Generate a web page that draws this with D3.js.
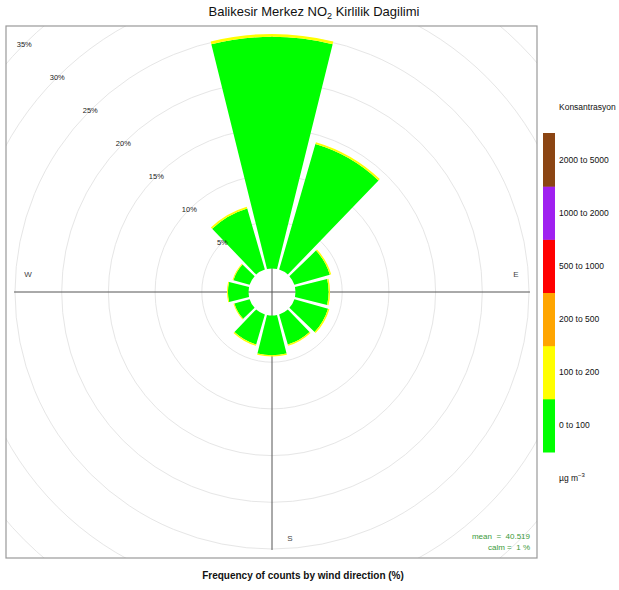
<!DOCTYPE html>
<html>
<head>
<meta charset="utf-8">
<script src="https://cdn.jsdelivr.net/npm/d3@7"></script>
<style>
  html, body { margin: 0; padding: 0; background: #fff; }
  svg { display: block; font-family: "Liberation Sans", Arial, sans-serif; }
  .annot { white-space: pre; }
</style>
</head>
<body>
<svg id="chart" width="619" height="590"></svg>
<script>
// Wind direction sectors (degrees, clockwise from north), 30° bins
const directions = [0, 30, 60, 90, 120, 150, 180, 210, 240, 270, 300, 330];
// Frequency (%) of counts per sector, split by NO2 concentration band
const band0to100   = [24.8, 14.0, 3.95, 3.55, 3.75, 3.35, 4.25, 3.35, 1.7, 2.2, 1.8, 6.8];
const band100to200 = [0.3, 0.2, 0.15, 0.15, 0.15, 0.15, 0.15, 0.15, 0.1, 0.1, 0.1, 0.2];
// Concentration bands (legend, bottom to top) and their colours
const bandLabels = ["0 to 100", "100 to 200", "200 to 500", "500 to 1000", "1000 to 2000", "2000 to 5000"];
const bandColors = ["#00FF00", "#FFFF00", "#FFA500", "#FF0000", "#A020F0", "#8B4513"];
// Radial grid labels (%)
const gridTicks = [5, 10, 15, 20, 25, 30, 35];
// Compass labels shown around the rose
const compassLabels = ["E", "S", "W"];
const compassAngles = [90, 180, 270];
const meanValue = 40.519;
const calmValue = 1;

const svg = d3.select("#chart");

// Plot panel
const panel = { x0: 6, y0: 26, x1: 537, y1: 558 };
const cx = 272, cy = 292;

// Radius scale: frequency (%) -> pixels, with an inner offset for the calm hole
const rScale = d3.scaleLinear().domain([0, 35]).range([23.5, 23.5 + 35 * 9.34]);

svg.append("defs").append("clipPath").attr("id", "panelClip")
  .append("rect")
  .attr("x", panel.x0).attr("y", panel.y0)
  .attr("width", panel.x1 - panel.x0).attr("height", panel.y1 - panel.y0);

const plot = svg.append("g").attr("clip-path", "url(#panelClip)");
const g = plot.append("g").attr("transform", `translate(${cx},${cy})`);

// Grid circles
g.selectAll("circle.grid").data(gridTicks).join("circle")
  .attr("class", "grid")
  .attr("r", d => rScale(d))
  .attr("fill", "none")
  .attr("stroke", "#e6e6e6")
  .attr("stroke-width", 1);

// Axis cross
const axisLen = rScale(25.1);
g.append("line").attr("x1", -axisLen).attr("x2", axisLen).attr("y1", 0).attr("y2", 0)
  .attr("stroke", "#555").attr("stroke-width", 1);
g.append("line").attr("x1", 0).attr("x2", 0).attr("y1", -axisLen).attr("y2", axisLen)
  .attr("stroke", "#555").attr("stroke-width", 1);

// Stack the concentration bands per direction
const stacked = [];
directions.forEach((dir, i) => {
  const vals = [band0to100[i], band100to200[i]];
  let cum = 0;
  vals.forEach((v, b) => {
    stacked.push({ dir, band: b, lo: cum, hi: cum + v });
    cum += v;
  });
});

const halfWidth = 15, trim = 1.1;
const arc = d3.arc()
  .innerRadius(d => rScale(d.lo))
  .outerRadius(d => rScale(d.hi))
  .startAngle(d => (d.dir - halfWidth + trim) * Math.PI / 180)
  .endAngle(d => (d.dir + halfWidth - trim) * Math.PI / 180)
  .padAngle(0.013)
  .padRadius(100);

g.selectAll("path.bar").data(stacked).join("path")
  .attr("class", "bar")
  .attr("d", arc)
  .attr("fill", d => bandColors[d.band]);

// Grid labels along the north-west diagonal
const labAngle = 315 * Math.PI / 180;
g.selectAll("text.gridlab").data(gridTicks).join("text")
  .attr("class", "gridlab")
  .attr("x", d => rScale(d) * Math.sin(labAngle))
  .attr("y", d => -rScale(d) * Math.cos(labAngle))
  .attr("text-anchor", "middle")
  .attr("dy", "0.35em")
  .attr("font-size", 7.5)
  .attr("fill", "#222")
  .text(d => d + "%");

// Compass labels
g.selectAll("text.compass").data(compassLabels).join("text")
  .attr("class", "compass")
  .attr("x", (d, i) => {
    const a = compassAngles[i] * Math.PI / 180;
    return 244 * Math.sin(a) + (compassAngles[i] === 180 ? 18 : 0);
  })
  .attr("y", (d, i) => {
    const a = compassAngles[i] * Math.PI / 180;
    return -244 * Math.cos(a) + (compassAngles[i] === 180 ? 2 : -18);
  })
  .attr("text-anchor", "middle")
  .attr("dy", "0.35em")
  .attr("font-size", 8)
  .attr("fill", "#444")
  .text(d => d);

// Panel border
svg.append("rect")
  .attr("x", panel.x0).attr("y", panel.y0)
  .attr("width", panel.x1 - panel.x0).attr("height", panel.y1 - panel.y0)
  .attr("fill", "none").attr("stroke", "#999").attr("stroke-width", 1.2);

// Mean and calm annotations
svg.append("text").attr("class", "annot").attr("x", 530).attr("y", 539)
  .attr("text-anchor", "end").attr("font-size", 8).attr("fill", "#3a9a3a")
  .text(`mean  =  ${meanValue}`);
svg.append("text").attr("class", "annot").attr("x", 530).attr("y", 550)
  .attr("text-anchor", "end").attr("font-size", 8).attr("fill", "#3a9a3a")
  .text(`calm =  ${calmValue} %`);

// Title with subscript
const title = svg.append("text").attr("x", 314).attr("y", 16)
  .attr("text-anchor", "middle").attr("font-size", 13).attr("fill", "#111");
title.append("tspan").text("Balikesir Merkez NO");
title.append("tspan").attr("font-size", 9).attr("dy", 3).text("2");
title.append("tspan").attr("dy", -3).text(" Kirlilik Dagilimi");

// X label
svg.append("text").attr("x", 303).attr("y", 579)
  .attr("text-anchor", "middle").attr("font-size", 10).attr("font-weight", "bold")
  .attr("fill", "#111")
  .text("Frequency of counts by wind direction (%)");

// Colour key
const keyX = 543, keyW = 12;
const keyScale = d3.scaleBand().domain(bandLabels.slice().reverse()).range([133, 452]);
const key = svg.append("g");
key.selectAll("rect").data(bandLabels).join("rect")
  .attr("x", keyX).attr("y", d => keyScale(d))
  .attr("width", keyW).attr("height", keyScale.bandwidth() + 0.5)
  .attr("fill", (d, i) => bandColors[i]);
key.selectAll("text").data(bandLabels).join("text")
  .attr("x", 559).attr("y", d => keyScale(d) + keyScale.bandwidth() / 2)
  .attr("dy", "0.35em").attr("font-size", 8.5).attr("fill", "#111")
  .text(d => d);
svg.append("text").attr("x", 559).attr("y", 107).attr("dy", "0.35em")
  .attr("font-size", 8.5).attr("fill", "#111").text("Konsantrasyon");
const unit = svg.append("text").attr("x", 559).attr("y", 481)
  .attr("font-size", 8.5).attr("fill", "#111");
unit.append("tspan").text("\u00B5g m");
unit.append("tspan").attr("font-size", 6).attr("dy", -4).text("\u22123");
</script>
</body>
</html>
